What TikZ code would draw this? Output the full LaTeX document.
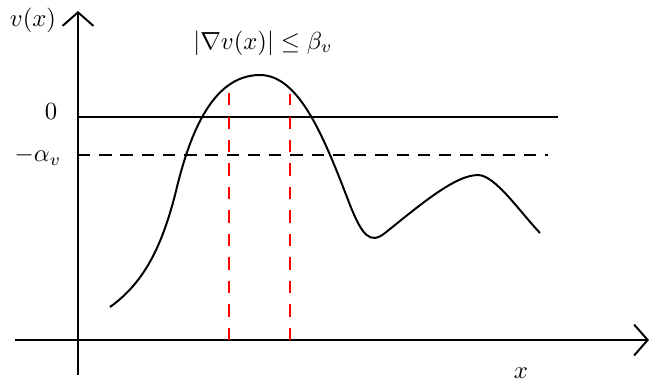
\documentclass[tikz,border=0pt]{standalone}
\usetikzlibrary{arrows.meta}
\begin{document}
\begin{tikzpicture}[x=0.405pt,y=-0.405pt,
  axis/.style={line width=0.8pt,-{Straight Barb[length=5.5pt,width=12.5pt,line width=0.8pt]}},
  level/.style={line width=0.8pt},
  dashlevel/.style={line width=0.8pt,dash pattern=on 5pt off 3.6pt},
  reddash/.style={red,line width=0.8pt,dash pattern=on 5pt off 4.5pt},
  curve/.style={line width=0.8pt},
  lab/.style={inner sep=0pt}]
\useasboundingbox (0,0) rectangle (664,381);
% axes
\coordinate (yb) at (78,375);
\coordinate (yt) at (78,11);
\coordinate (xl) at (15,340);
\coordinate (xr) at (649,340);
\draw[axis] (yb) -- (yt);
\draw[axis] (xl) -- (xr);
% levels
\coordinate (z0) at (78,117);
\coordinate (z1) at (558,117);
\coordinate (a0) at (78,155);
\coordinate (a1) at (548,155);
\draw[level] (z0) -- (z1);
\draw[dashlevel] (a0) -- (a1);
% red verticals
\coordinate (r1t) at (229,91);
\coordinate (r1b) at (229,340);
\coordinate (r2t) at (290,94);
\coordinate (r2b) at (290,340);
\draw[reddash] (r1b) -- (r1t);
\draw[reddash] (r2b) -- (r2t);
% curve
\draw[curve] (110,307) .. controls (145,282) and (162,245) .. (175,195)
  .. controls (188,140) and (210,75) .. (260,75)
  .. controls (300,75) and (325,140) .. (350,205)
  .. controls (362,235) and (370,245) .. (385,233)
  .. controls (420,205) and (455,175) .. (478,175)
  .. controls (495,175) and (520,212) .. (540,233);
% labels
\node[lab] (vx) at (33,20) {$v(x)$};
\node[lab] (zero) at (51,112) {$0$};
\node[lab] (alpha) at (38,156) {$-\alpha_v$};
\node[lab] (xlab) at (521,373) {$x$};
\node[lab] (title) at (263,43) {$|\nabla v(x)|\leq\beta_v$};
\end{tikzpicture}
\end{document}
